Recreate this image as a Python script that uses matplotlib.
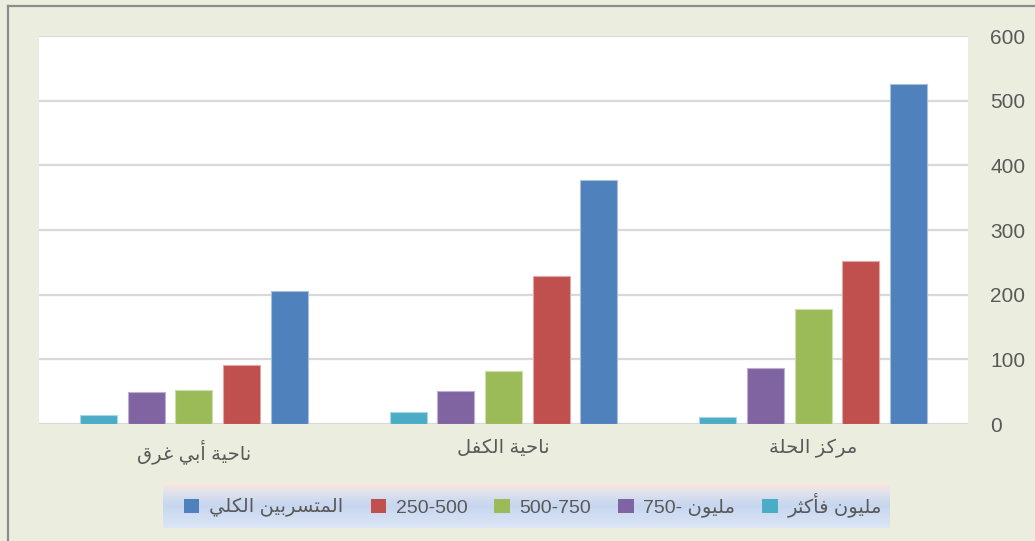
import re
import numpy as np
import matplotlib
matplotlib.use('Agg')
import matplotlib.pyplot as plt
from matplotlib.patches import Patch
from matplotlib.lines import Line2D

plt.rcParams['font.family'] = ['Liberation Sans', 'DejaVu Sans']

# data (groups left to right as drawn)
regions = ['ناحية أبي غرق', 'ناحية الكفل', 'مركز الحلة']
series_names = ['مليون فأكثر', '750- مليون', '500-750', '250-500', 'المتسربين الكلي']
million_plus = [14, 18, 11]
s750_million = [49, 51, 87]
s500_750 = [52, 82, 178]
s250_500 = [91, 229, 252]
total_dropouts = [205, 377, 526]
series_values = [million_plus, s750_million, s500_750, s250_500, total_dropouts]
colors = ['#4BACC6', '#8064A2', '#9BBB59', '#C0504D', '#4F81BD']
edges = ['#A8D6E3', '#BDAFD1', '#CDDDAC', '#E0A8A6', '#A7C0DE']
yticks = [0, 100, 200, 300, 400, 500, 600]

# minimal arabic shaping (no arabic_reshaper available)
FORMS = {
    'ا': (0xFE8D, 0xFE8E, None, None), 'أ': (0xFE83, 0xFE84, None, None),
    'ب': (0xFE8F, 0xFE90, 0xFE91, 0xFE92), 'ة': (0xFE93, 0xFE94, None, None),
    'ت': (0xFE95, 0xFE96, 0xFE97, 0xFE98), 'ث': (0xFE99, 0xFE9A, 0xFE9B, 0xFE9C),
    'ح': (0xFEA1, 0xFEA2, 0xFEA3, 0xFEA4), 'ر': (0xFEAD, 0xFEAE, None, None),
    'ز': (0xFEAF, 0xFEB0, None, None), 'س': (0xFEB1, 0xFEB2, 0xFEB3, 0xFEB4),
    'غ': (0xFECD, 0xFECE, 0xFECF, 0xFED0), 'ف': (0xFED1, 0xFED2, 0xFED3, 0xFED4),
    'ق': (0xFED5, 0xFED6, 0xFED7, 0xFED8), 'ك': (0xFED9, 0xFEDA, 0xFEDB, 0xFEDC),
    'ل': (0xFEDD, 0xFEDE, 0xFEDF, 0xFEE0), 'م': (0xFEE1, 0xFEE2, 0xFEE3, 0xFEE4),
    'ن': (0xFEE5, 0xFEE6, 0xFEE7, 0xFEE8), 'و': (0xFEED, 0xFEEE, None, None),
    'ي': (0xFEF1, 0xFEF2, 0xFEF3, 0xFEF4),
}


def shape_word(w):
    out = []
    for i, c in enumerate(w):
        if c not in FORMS:
            out.append(c)
            continue
        prev = w[i - 1] if i > 0 else None
        nxt = w[i + 1] if i + 1 < len(w) else None
        jp = prev in FORMS and FORMS[prev][2] is not None
        jn = FORMS[c][2] is not None and nxt in FORMS
        iso, fin, ini, med = FORMS[c]
        if jp and jn:
            code = med
        elif jn:
            code = ini
        elif jp:
            code = fin
        else:
            code = iso
        out.append(chr(code))
    return ''.join(out)


def ar(text):
    # reverse each arabic run after shaping, keep the rest in place
    def fix(m):
        return shape_word(m.group(0))[::-1]
    return re.sub(r'[\u0600-\u06FF]+(?: [\u0600-\u06FF]+)*', fix, text)


fig = plt.figure(figsize=(10.35, 5.41), dpi=100)
fig.patch.set_facecolor('#EBEEDF')

# frame lines (top / left visible)
fig.add_artist(Line2D([8 / 1035, 8 / 1035], [0, 1 - 6 / 541], color='#8C8C8C', lw=1.6))
fig.add_artist(Line2D([8 / 1035, 1], [1 - 6 / 541, 1 - 6 / 541], color='#8C8C8C', lw=1.6))

ax = fig.add_axes([39 / 1035, 1 - 424 / 541, 929 / 1035, 388 / 541])
ax.set_facecolor('white')

x = np.arange(len(regions))
step = 0.154
width = 0.12
for i, (vals, c, ec) in enumerate(zip(series_values, colors, edges)):
    ax.bar(x + (i - 2) * step, vals, width, color=c, edgecolor=ec, linewidth=0.8,
           label=ar(series_names[i]), zorder=3)

ax.set_xlim(-0.5, 2.5)
ax.set_ylim(0, 600)
ax.set_yticks(yticks)
ax.yaxis.tick_right()
ax.tick_params(axis='y', length=0, pad=16, labelsize=15, labelcolor='#595959')
ax.set_xticks(x)
ax.set_xticklabels([ar(r) for r in regions])
ax.tick_params(axis='x', length=0, pad=11, labelsize=14, labelcolor='#595959')
ax.grid(axis='y', color='#D9D9D9', linewidth=1.6, zorder=0)
for s in ax.spines.values():
    s.set_visible(False)

# legend with gradient background
lax = fig.add_axes([163 / 1035, 1 - 528 / 541, 727 / 1035, 45 / 541])
grad = np.array([[0.98, 0.91, 0.87], [0.86, 0.88, 0.93], [0.78, 0.84, 0.94],
                 [0.82, 0.87, 0.95], [0.86, 0.90, 0.96]])
ys = np.linspace(0, 1, 50)
img = np.stack([np.interp(ys, np.linspace(0, 1, 5), grad[:, k]) for k in range(3)], axis=-1)
lax.imshow(img[:, None, :].repeat(2, axis=1), aspect='auto', extent=[0, 1, 0, 1])
lax.set_axis_off()

handles, labels = ax.get_legend_handles_labels()
handles = [Patch(facecolor=h.patches[0].get_facecolor(), edgecolor='none') for h in handles]
fig.legend(handles[::-1], labels[::-1], ncol=5, frameon=False,
           loc='center', bbox_to_anchor=(533 / 1035, 1 - 505 / 541),
           fontsize=14, labelcolor='#595959', handlelength=0.78, handleheight=0.78,
           handletextpad=0.5, columnspacing=1.4)

fig.savefig('out.png', dpi=100, facecolor=fig.get_facecolor())
